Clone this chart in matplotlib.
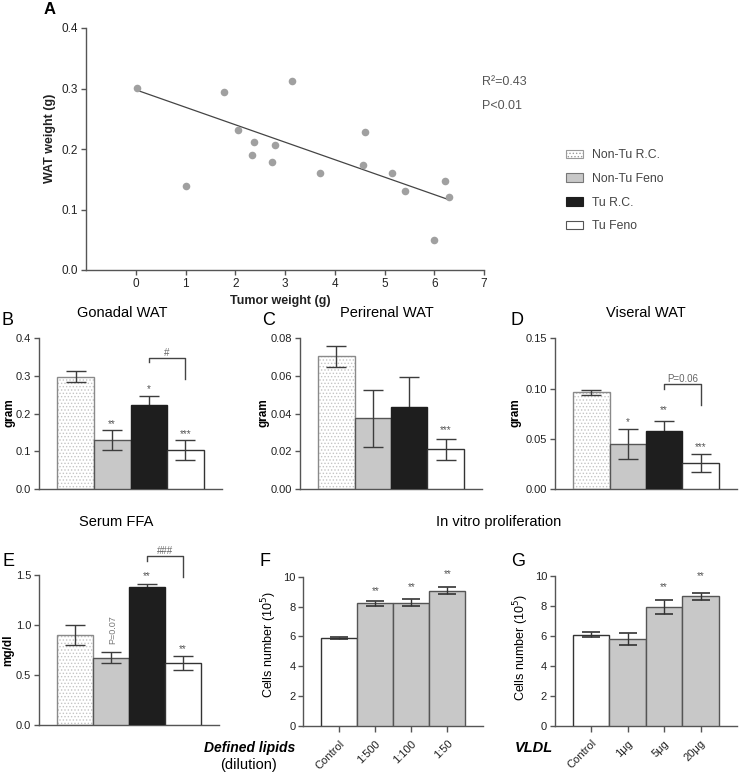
import matplotlib
matplotlib.use('Agg')
import matplotlib.pyplot as plt
from matplotlib.patches import Patch
import numpy as np

plt.rcParams['font.family'] = ['Liberation Sans', 'DejaVu Sans']
plt.rcParams['hatch.linewidth'] = 0.6

# ---------------- data ----------------
tumor_weight = [0.03, 1.00, 1.77, 2.05, 2.33, 2.37, 2.74, 2.80, 3.14, 3.70,
                4.56, 4.60, 5.16, 5.42, 6.00, 6.21, 6.30]
wat_weight = [0.301, 0.139, 0.295, 0.231, 0.190, 0.211, 0.179, 0.206, 0.312, 0.160,
              0.174, 0.228, 0.161, 0.130, 0.050, 0.147, 0.121]
fit_x = [0.03, 6.30]
fit_y = [0.297, 0.116]

groups = ['Non-Tu R.C.', 'Non-Tu Feno', 'Tu R.C.', 'Tu Feno']

gonadal_mean = [0.298, 0.130, 0.223, 0.104]
gonadal_err = [0.015, 0.026, 0.025, 0.027]
gonadal_stars = ['', '**', '*', '***']
gonadal_star_y = [0, 0.177, 0.270, 0.150]

perirenal_mean = [0.0705, 0.0375, 0.0435, 0.0211]
perirenal_err = [0.0055, 0.0152, 0.0161, 0.0055]
perirenal_stars = ['', '', '', '***']
perirenal_star_y = [0, 0, 0, 0.0326]

visceral_mean = [0.0962, 0.0451, 0.0574, 0.0256]
visceral_err = [0.0028, 0.0148, 0.0103, 0.0090]
visceral_stars = ['', '*', '**', '***']
visceral_star_y = [0, 0.0687, 0.0803, 0.0438]

ffa_mean = [0.903, 0.673, 1.380, 0.617]
ffa_err = [0.100, 0.053, 0.035, 0.070]
ffa_stars = ['', '', '**', '**']
ffa_star_y = [0, 0, 1.51, 0.777]

lipid_labels = ['Control', '1:500', '1:100', '1:50']
lipid_mean = [5.90, 8.22, 8.26, 9.06]
lipid_err = [0.05, 0.18, 0.25, 0.25]
lipid_stars = ['', '**', '**', '**']
lipid_star_y = [0, 9.17, 9.42, 10.33]

vldl_labels = ['Control', '1μg', '5μg', '20μg']
vldl_mean = [6.08, 5.76, 7.89, 8.64]
vldl_err = [0.16, 0.40, 0.47, 0.23]
vldl_stars = ['', '', '**', '**']
vldl_star_y = [0, 0, 9.36, 10.09]

# brackets: (top, left bottom, right bottom)
gonadal_bracket = [0.349, 0.337, 0.292]
visceral_bracket = [0.1045, 0.0999, 0.0833]
ffa_bracket = [1.69, 1.643, 1.477]

# ---------------- layout helpers ----------------
W, H = 739, 773
fig = plt.figure(figsize=(W / 100, H / 100), dpi=100)


def rect(l, r, t, b):
    return [l / W, 1 - b / H, (r - l) / W, (b - t) / H]


def ftext(x, y, s, **kw):
    kw.setdefault('ha', 'center')
    kw.setdefault('va', 'center')
    fig.text(x / W, 1 - y / H, s, **kw)


AX = '#555555'


def style_axes(ax, labelsize=8.5):
    for s in ['top', 'right']:
        ax.spines[s].set_visible(False)
    for s in ['left', 'bottom']:
        ax.spines[s].set_color(AX)
        ax.spines[s].set_linewidth(1.0)
    ax.tick_params(axis='both', direction='out', length=3.5, width=1, color=AX,
                   labelsize=labelsize, labelcolor='#222222', pad=2)


# ---------------- Panel A ----------------
axA = fig.add_axes(rect(86, 484, 28, 270))
style_axes(axA)
axA.scatter(tumor_weight, wat_weight, s=30, color='#a0a0a0', zorder=3, linewidths=0)
axA.plot(fit_x, fit_y, color='#444444', lw=0.9, zorder=2)
axA.set_xlim(-1, 7)
axA.set_ylim(0, 0.4)
axA.set_xticks(range(0, 8))
axA.set_yticks([0, 0.1, 0.2, 0.3, 0.4])
axA.set_yticklabels(['0.0', '0.1', '0.2', '0.3', '0.4'])
ftext(50, 10, 'A', fontsize=12, fontweight='bold')
ftext(50, 138, 'WAT weight (g)', rotation=90, fontsize=9, fontweight='bold', color='#222222')
ftext(280, 301, 'Tumor weight (g)', fontsize=9, fontweight='bold', color='#222222')
ftext(482, 82, 'R²=0.43', ha='left', fontsize=9, color='#555555')
ftext(482, 106, 'P<0.01', ha='left', fontsize=9, color='#555555')

# legend
handles = [
    Patch(facecolor='white', edgecolor='#9a9a9a', hatch='.....', linewidth=0.8),
    Patch(facecolor='#c8c8c8', edgecolor='#777777', linewidth=0.8),
    Patch(facecolor='#1e1e1e', edgecolor='#1e1e1e', linewidth=0.8),
    Patch(facecolor='white', edgecolor='#555555', linewidth=0.8),
]
leg = fig.legend(handles, groups, loc='center left',
                 bbox_to_anchor=(566 / W, 1 - 190.7 / H), frameon=False,
                 fontsize=8.8, handlelength=1.4, handleheight=0.7,
                 handletextpad=0.7, labelspacing=0.95, borderpad=0,
                 borderaxespad=0)
for t in leg.get_texts():
    t.set_color('#444444')

# ---------------- grouped bar panels ----------------
BAR_FC = ['none', '#c8c8c8', '#1e1e1e', 'white']
BAR_EC = ['#8a8a8a', '#555555', '#1e1e1e', '#333333']


def group_panel(box, means, errs, stars, star_y, ylim, yticks, fmt):
    ax = fig.add_axes(rect(*box))
    style_axes(ax, labelsize=8)
    x = np.arange(len(means))
    ax.bar(x[0], means[0], width=1, color='white', edgecolor='#c4c4c4',
           hatch='.....', linewidth=0, zorder=2)
    ax.bar(x, means, width=1, color=BAR_FC, edgecolor=BAR_EC, linewidth=1, zorder=3)
    for i in range(len(means)):
        ax.errorbar(x[i], means[i], yerr=errs[i], fmt='none', ecolor='#3c3c3c',
                    elinewidth=1, capsize=7, capthick=1,
                    zorder=1 if i == 2 else 4)
        if stars[i]:
            ax.annotate(stars[i], (x[i], star_y[i]), xytext=(0, -5),
                        textcoords='offset pixels', ha='center', va='baseline',
                        fontsize=7, color='#555555', annotation_clip=False)
    ax.set_xlim(-1, 4)
    ax.set_ylim(*ylim)
    ax.set_xticks([])
    ax.set_yticks(yticks)
    ax.set_yticklabels([fmt.format(v) for v in yticks])
    return ax


def bracket(ax, b, label):
    ax.plot([2, 2, 3, 3], [b[1], b[0], b[0], b[2]], color='#444444', lw=1,
            clip_on=False, zorder=5)
    ax.text(2.5, b[0], label, ha='center', va='bottom', fontsize=7,
            color='#666666', clip_on=False)


axB = group_panel((39, 222, 338.3, 489), gonadal_mean, gonadal_err, gonadal_stars,
                  gonadal_star_y, (0, 0.4), [0, 0.1, 0.2, 0.3, 0.4], '{:.1f}')
bracket(axB, gonadal_bracket, '#')

axC = group_panel((300, 482, 338.3, 489), perirenal_mean, perirenal_err, perirenal_stars,
                  perirenal_star_y, (0, 0.08), [0, 0.02, 0.04, 0.06, 0.08], '{:.2f}')

axD = group_panel((555, 737, 338.3, 489), visceral_mean, visceral_err, visceral_stars,
                  visceral_star_y, (0, 0.15), [0, 0.05, 0.10, 0.15], '{:.2f}')
bracket(axD, visceral_bracket, 'P=0.06')

axE = group_panel((39, 219, 575, 725), ffa_mean, ffa_err, ffa_stars,
                  ffa_star_y, (0, 1.5), [0, 0.5, 1.0, 1.5], '{:.1f}')
bracket(axE, ffa_bracket, '###')
axE.text(1.05, 0.95, 'P=0.07', rotation=90, ha='center', va='center',
         fontsize=6.5, color='#777777')

ftext(122.7, 313, 'Gonadal WAT', fontsize=10.5)
ftext(386.7, 313, 'Perirenal WAT', fontsize=10.5)
ftext(645.7, 313, 'Viseral WAT', fontsize=10.5)
ftext(116.5, 522, 'Serum FFA', fontsize=10.5)
ftext(499, 522, 'In vitro proliferation', fontsize=10.5)

for (x, y, s) in [(7.5, 320.5, 'B'), (269, 320.5, 'C'), (517, 320.5, 'D'),
                  (8, 561, 'E'), (264.7, 561.5, 'F'), (518, 561.3, 'G')]:
    ftext(x, y, s, fontsize=13)

ftext(9, 413, 'gram', rotation=90, fontsize=8.5, fontweight='bold')
ftext(263, 413, 'gram', rotation=90, fontsize=8.5, fontweight='bold')
ftext(516, 413, 'gram', rotation=90, fontsize=8.5, fontweight='bold')
ftext(8, 650, 'mg/dl', rotation=90, fontsize=8.5, fontweight='bold')

# ---------------- proliferation panels ----------------


def prolif_panel(box, labels, means, errs, stars, star_y):
    ax = fig.add_axes(rect(*box))
    style_axes(ax, labelsize=8)
    x = np.arange(len(means))
    ax.bar(x, means, width=1, color=['white'] + ['#c8c8c8'] * 3,
           edgecolor=['#333333'] + ['#555555'] * 3, linewidth=1, zorder=3)
    ax.errorbar(x, means, yerr=errs, fmt='none', ecolor='#333333', elinewidth=1,
                capsize=6.5, capthick=1.2, zorder=4)
    for i in range(len(means)):
        if stars[i]:
            ax.annotate(stars[i], (x[i], star_y[i]), xytext=(0, -5),
                        textcoords='offset pixels', ha='center', va='baseline',
                        fontsize=7, color='#555555', annotation_clip=False)
    ax.set_xlim(-1, 4)
    ax.set_ylim(0, 10)
    ax.set_yticks([0, 2, 4, 6, 8, 10])
    ax.set_xticks(x)
    ax.set_xticklabels(labels, rotation=45, ha='right', rotation_mode='anchor',
                       fontsize=8)
    ax.tick_params(axis='x', pad=5, length=4)
    return ax


axF = prolif_panel((303.3, 483.3, 576.7, 726), lipid_labels, lipid_mean, lipid_err,
                   lipid_stars, lipid_star_y)
axG = prolif_panel((554.7, 737, 575.7, 725.7), vldl_labels, vldl_mean, vldl_err,
                   vldl_stars, vldl_star_y)

ftext(269, 645, 'Cells number (10$^5$)', rotation=90, fontsize=9)
ftext(520.7, 648, 'Cells number (10$^5$)', rotation=90, fontsize=9)
ftext(249.5, 748, 'Defined lipids', fontsize=10, fontweight='bold', fontstyle='italic')
ftext(248.8, 765, '(dilution)', fontsize=10.5)
ftext(534, 748, 'VLDL', fontsize=10.5, fontweight='bold', fontstyle='italic')

fig.savefig('out.png', dpi=100)
